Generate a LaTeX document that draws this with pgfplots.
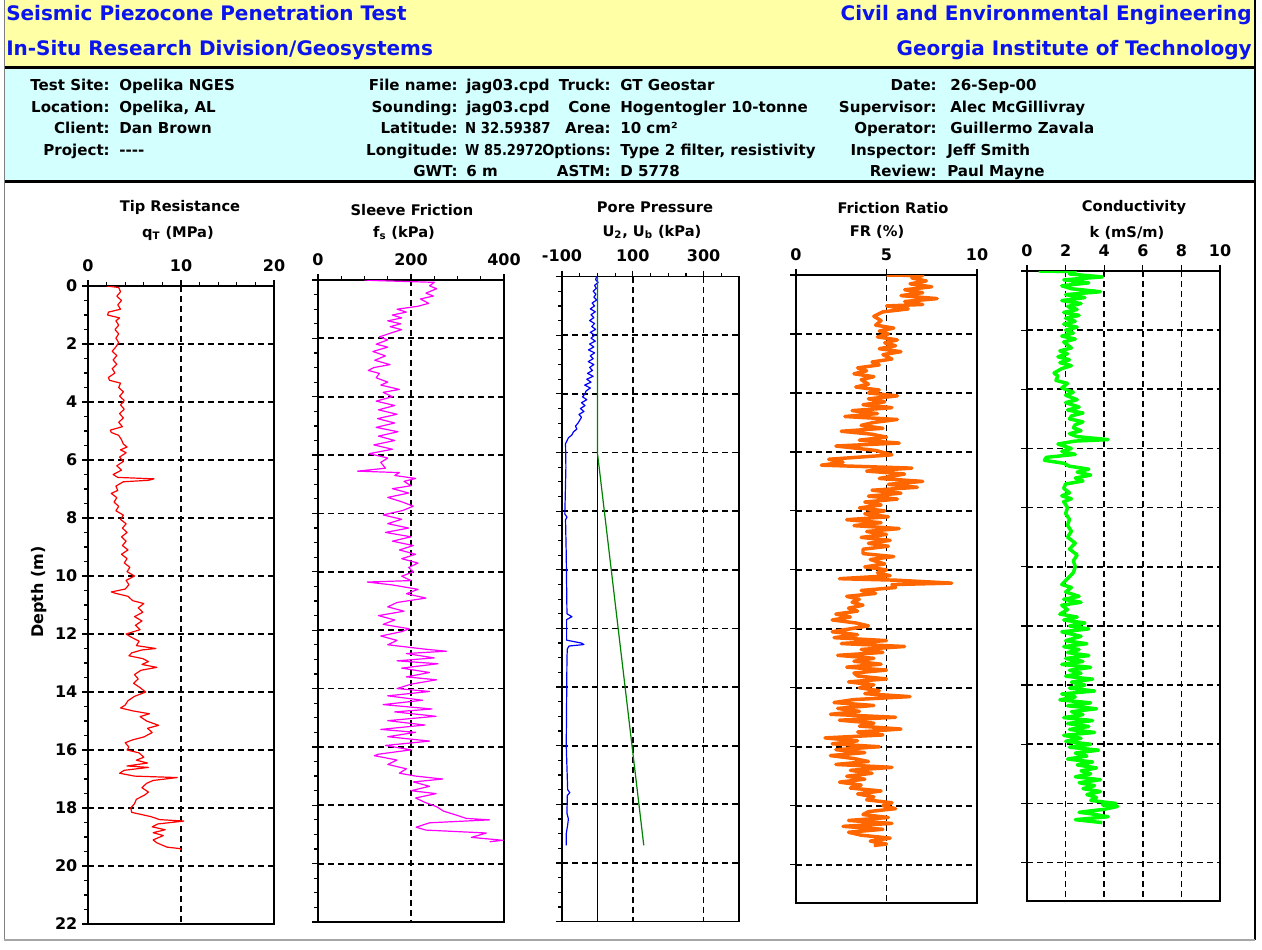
\documentclass[border=0pt]{standalone}
\usepackage{fontspec}
\setmainfont{DejaVu Sans}
\usepackage{pgfplots}
\pgfplotsset{compat=1.18}
\definecolor{hdryellow}{RGB}{255,255,165}
\definecolor{hdrcyan}{RGB}{212,255,255}
\definecolor{hdrblue}{RGB}{10,20,235}
\definecolor{cptred}{RGB}{255,0,0}
\definecolor{cptmag}{RGB}{255,0,255}
\definecolor{cptblue}{RGB}{0,0,255}
\definecolor{cpthyd}{RGB}{0,130,0}
\definecolor{cptorange}{RGB}{255,102,0}
\definecolor{cptlime}{RGB}{0,255,0}
\newcommand\fs[1]{\fontsize{#1}{#1}\selectfont}
\pgfplotsset{
  cpt/.style={
    scale only axis,
    y dir=reverse,
    ymin=0,
    xtick pos=upper,
    xticklabel pos=upper,
    ytick pos=left,
    tick align=outside,
    major tick length=4.5pt,
    minor tick length=3pt,
    every tick/.style={black, line width=0.9pt},
    axis line style={black, line width=1.3pt},
    grid=major,
    major grid style={black, line width=1.3pt, dash pattern=on 4.5pt off 3pt},
    tick label style={font=\bfseries\fs{12}},
    xticklabel style={yshift=3pt},
    /pgf/number format/assume math mode=true,
    anchor=south west,
  }
}
\begin{document}
\begin{tikzpicture}
\begin{scope}[x=0.75pt,y=0.75pt]
\fill[white] (0,0) rectangle (1262,949);
\fill[hdryellow] (4,883) rectangle (1255,949);
\fill[hdrcyan] (4,768) rectangle (1255,880);
\draw[black,line width=2.25pt] (4,881.5) -- (1255,881.5);
\draw[black,line width=2.25pt] (4,767) -- (1255,767);
\draw[black,line width=1.5pt] (1255,9) -- (1255,949);
\draw[gray,line width=0.75pt] (4,9) -- (4,949);
\draw[gray!70,line width=1.2pt] (4,9) -- (1255,9);
% header titles
\begin{scope}[every node/.style={font=\bfseries\fs{15}, text=hdrblue, inner sep=0pt}]
\node[anchor=mid west] at (6,932) {Seismic Piezocone Penetration Test};
\node[anchor=mid west] at (6,897) {In-Situ Research Division/Geosystems};
\node[anchor=mid east] at (1252,932) {Civil and Environmental Engineering};
\node[anchor=mid east] at (1252,897) {Georgia Institute of Technology};
\end{scope}
% info band
\begin{scope}[every node/.style={font=\bfseries\fs{11.3}, text=black, inner sep=0pt}]
\node[anchor=mid east] at (110,862) {Test Site:};
\node[anchor=mid east] at (110,840.5) {Location:};
\node[anchor=mid east] at (110,819) {Client:};
\node[anchor=mid east] at (110,797.5) {Project:};
\node[anchor=mid west] at (119,862) {Opelika NGES};
\node[anchor=mid west] at (119,840.5) {Opelika, AL};
\node[anchor=mid west] at (119,819) {Dan Brown};
\node[anchor=mid west] at (119,797.5) {{-}{-}{-}{-}};
\node[anchor=mid east] at (458,862) {File name:};
\node[anchor=mid east] at (458,840.5) {Sounding:};
\node[anchor=mid east] at (458,819) {Latitude:};
\node[anchor=mid east] at (458,797.5) {Longitude:};
\node[anchor=mid east] at (458,776) {GWT:};
\node[anchor=mid west] at (466,862) {jag03.cpd};
\node[anchor=mid west] at (466,840.5) {jag03.cpd};
\node[anchor=mid west, xscale=0.88] at (465,819) {N 32.59387};
\node[anchor=mid west, xscale=0.86] at (465,797.5) {W 85.2972};
\node[anchor=mid west] at (466,776) {6 m};
\node[anchor=mid east] at (611,862) {Truck:};
\node[anchor=mid east] at (611,840.5) {Cone};
\node[anchor=mid east] at (611,819) {Area:};
\node[anchor=mid east, xscale=0.95] at (611,797.5) {Options:};
\node[anchor=mid east] at (611,776) {ASTM:};
\node[anchor=mid west] at (620,862) {GT Geostar};
\node[anchor=mid west] at (620,840.5) {Hogentogler 10-tonne};
\node[anchor=mid west] at (620,819) {10 cm²};
\node[anchor=mid west] at (620,797.5) {Type 2 filter, resistivity};
\node[anchor=mid west] at (620,776) {D 5778};
\node[anchor=mid east] at (937,862) {Date:};
\node[anchor=mid east] at (937,840.5) {Supervisor:};
\node[anchor=mid east] at (937,819) {Operator:};
\node[anchor=mid east] at (937,797.5) {Inspector:};
\node[anchor=mid east] at (937,776) {Review:};
\node[anchor=mid west] at (950,862) {26-Sep-00};
\node[anchor=mid west] at (950,840.5) {Alec McGillivray};
\node[anchor=mid west] at (950,819) {Guillermo Zavala};
\node[anchor=mid west] at (947,797.5) {Jeff Smith};
\node[anchor=mid west] at (947,776) {Paul Mayne};
\end{scope}
% panel titles
\begin{scope}[every node/.style={font=\bfseries\fs{11}, text=black, inner sep=0pt}]
\node at (180,742) {Tip Resistance};
\node at (178,716) {q\textsubscript{T} (MPa)};
\node at (412,739) {Sleeve Friction};
\node at (404,716) {f\textsubscript{s} (kPa)};
\node at (655,742) {Pore Pressure};
\node at (652,717) {U\textsubscript{2}, U\textsubscript{b} (kPa)};
\node at (893,741) {Friction Ratio};
\node at (877,717) {FR (\%)};
\node at (1134,741) {Conductivity};
\node at (1127,716) {k (mS/m)};
\end{scope}
\node[rotate=90, font=\bfseries\fs{12}] at (39,357) {Depth (m)};
\end{scope}

% Panel 1: tip resistance
\begin{axis}[cpt, at={(66pt,18.75pt)}, width=139.5pt, height=478.5pt,
  xmin=0, xmax=20, ymax=22,
  xtick={0,10,20}, xticklabels={0,10,20}, minor x tick num=4,
  ytick={0,2,4,6,8,10,12,14,16,18,20,22},
  yticklabels={0,2,4,6,8,10,12,14,16,18,20,22}, minor y tick num=3]
\addplot[cptred, line width=0.9pt, line join=round] table[x=v,y=z] {
z v
0.00 2.0
0.05 3.3
0.2 3.5
0.35 3.1
0.5 3.6
0.65 3.2
0.8 3.5
0.9 2.2
1.0 2.1
1.1 3.4
1.2 3.0
1.35 3.3
1.5 2.9
1.65 3.3
1.8 3.0
1.95 3.3
2.1 3.0
2.25 2.6
2.4 3.1
2.55 2.7
2.7 3.1
2.85 2.6
3.0 2.9
3.15 2.2
3.25 2.3
3.35 3.5
3.5 3.3
3.65 3.8
3.8 3.4
3.95 3.9
4.1 3.5
4.25 3.9
4.4 3.4
4.55 3.8
4.7 3.3
4.85 3.7
4.97 2.4
5.05 2.5
5.15 3.3
5.3 3.6
5.45 3.8
5.55 4.2
5.65 3.5
5.75 4.1
5.9 3.4
6.05 3.8
6.2 3.1
6.35 3.6
6.5 2.7
6.6 3.2
6.65 7.1
6.7 6.5
6.75 3.8
6.9 3.0
7.05 3.2
7.15 2.5
7.3 3.1
7.45 2.8
7.6 3.3
7.75 3.0
7.9 3.8
8.05 3.5
8.2 4.1
8.35 3.7
8.5 4.2
8.65 3.6
8.8 4.1
8.95 3.7
9.1 4.3
9.25 3.6
9.4 4.2
9.55 3.9
9.7 4.5
9.85 4.2
10.0 5.0
10.15 4.1
10.3 4.4
10.45 4.0
10.55 2.5
10.6 3.0
10.7 4.3
10.85 4.8
10.95 6.0
11.1 5.4
11.25 5.9
11.4 5.0
11.55 5.8
11.7 5.1
11.85 5.6
12.0 4.1
12.1 4.6
12.25 5.5
12.4 5.2
12.5 7.3
12.55 5.8
12.65 4.7
12.75 4.4
12.85 5.9
12.95 6.5
13.05 5.8
13.15 7.4
13.25 5.7
13.4 5.0
13.55 5.4
13.7 4.9
13.85 5.6
14.0 6.2
14.15 5.0
14.3 4.3
14.45 4.0
14.55 3.5
14.65 4.8
14.75 6.6
14.85 5.6
15.0 6.3
15.15 7.6
15.25 6.4
15.4 6.9
15.55 6.0
15.65 4.8
15.75 4.0
15.9 4.4
16.0 4.2
16.1 5.5
16.25 6.0
16.35 5.2
16.45 6.4
16.55 4.2
16.6 6.5
16.7 3.9
16.8 3.4
16.9 5.0
16.95 9.6
17.05 7.0
17.15 6.3
17.3 5.8
17.45 6.5
17.55 6.1
17.7 5.2
17.85 5.0
18.0 4.6
18.15 4.7
18.3 6.8
18.4 7.7
18.45 10.3
18.55 7.5
18.65 6.9
18.75 8.3
18.85 7.0
18.95 8.1
19.1 7.0
19.2 7.4
19.35 8.5
19.4 9.9
19.45 10.0
};
\end{axis}

% Panel 2: sleeve friction
\begin{axis}[cpt, at={(238.5pt,20.25pt)}, width=139.5pt, height=481.5pt,
  xmin=0, xmax=400, ymax=22,
  xtick={0,200,400}, xticklabels={0,200,400}, minor x tick num=3,
  ytick={0,2,4,6,8,10,12,14,16,18,20,22}, yticklabels={}, minor y tick num=3]
\addplot[cptmag, line width=0.9pt, line join=round] table[x=v,y=z] {
z v
0.00 100
0.02 125
0.08 250
0.2 240
0.3 255
0.45 232
0.55 248
0.65 220
0.8 238
0.9 215
1.0 170
1.1 190
1.2 160
1.3 180
1.4 150
1.5 178
1.6 155
1.7 180
1.8 160
1.95 132
2.05 150
2.2 125
2.3 150
2.45 118
2.6 145
2.75 122
2.9 155
3.0 120
3.1 108
3.2 132
3.35 125
3.5 150
3.6 135
3.75 175
3.85 140
4.0 160
4.15 125
4.3 165
4.45 130
4.6 170
4.75 128
4.9 165
5.05 125
5.2 172
5.35 130
5.5 165
5.65 120
5.8 160
5.95 110
6.1 150
6.25 135
6.45 145
6.55 85
6.6 175
6.7 165
6.8 210
6.9 185
7.05 200
7.15 160
7.3 195
7.45 150
7.6 180
7.75 205
7.9 182
8.05 140
8.2 180
8.35 150
8.5 195
8.65 145
8.8 200
8.95 160
9.1 205
9.25 175
9.4 210
9.55 180
9.7 215
9.85 195
10.0 205
10.15 180
10.3 200
10.35 106
10.45 160
10.6 215
10.75 190
10.9 232
11.05 170
11.2 150
11.35 185
11.5 130
11.65 165
11.8 140
11.95 196
12.05 180
12.2 135
12.35 170
12.5 150
12.65 230
12.72 276
12.8 190
12.95 250
13.05 170
13.15 258
13.3 180
13.45 240
13.6 190
13.7 255
13.85 200
14.0 170
14.1 240
14.25 150
14.4 225
14.55 140
14.7 245
14.8 165
14.95 254
15.1 150
15.25 230
15.4 135
15.5 210
15.65 150
15.8 240
15.95 145
16.1 200
16.25 130
16.3 121
16.45 170
16.6 150
16.75 190
16.9 175
17.0 210
17.1 268
17.2 205
17.35 240
17.5 200
17.6 254
17.75 210
17.9 230
18.05 255
18.2 270
18.35 300
18.45 319
18.5 369
18.6 240
18.75 211
18.85 232
18.95 362
19.1 330
19.2 398
19.25 369
};
\end{axis}

% Panel 3: pore pressure
\begin{axis}[cpt, at={(421.5pt,20.55pt)}, width=132.75pt, height=483.75pt,
  xmin=-100, xmax=400, ymax=22,
  xtick={-100,100,300}, xticklabels={-100,100,300},
  minor xtick={-50,0,50,150,200,250,350},
  ytick={0,2,4,6,8,10,12,14,16,18,20,22}, yticklabels={}, minor y tick num=3]
\draw[black, line width=1pt] (axis cs:0,0) -- (axis cs:0,22);
\addplot[cptblue, line width=0.9pt, line join=round] table[x=v,y=z] {
z v
0.00 -2
0.1 -5
0.2 2
0.3 -8
0.4 -3
0.5 -12
0.6 -4
0.7 -10
0.8 -2
0.9 -15
1.0 -8
1.1 -20
1.2 -6
1.3 -18
1.4 -10
1.5 -22
1.6 -8
1.7 -16
1.8 -5
1.9 -20
2.0 -8
2.1 -18
2.2 -6
2.3 -22
2.4 -10
2.5 -25
2.6 -8
2.7 -20
2.8 -12
2.9 -26
3.0 -10
3.1 -22
3.2 -14
3.3 -28
3.4 -12
3.5 -30
3.6 -18
3.7 -36
3.8 -20
3.9 -32
4.0 -35
4.1 -42
4.2 -30
4.3 -45
4.4 -35
4.5 -48
4.6 -38
4.7 -52
4.8 -45
4.9 -50
5.0 -55
5.1 -62
5.2 -58
5.3 -68
5.4 -72
5.5 -82
5.6 -86
5.7 -90
6.5 -89
8.1 -92
8.2 -86
8.3 -90
9.5 -88
11.5 -86
11.6 -72
11.7 -87
12.4 -87
12.5 -45
12.55 -38
12.6 -80
12.7 -85
13.0 -86
14.5 -87
16.0 -88
17.5 -84
17.6 -78
17.7 -85
18.3 -86
18.5 -82
18.7 -84
19.0 -88
19.4 -88
};
\addplot[cpthyd, line width=0.9pt] table[x=v,y=z] {
z v
0.0 0
6.0 0
19.4 131
};
\end{axis}

% Panel 4: friction ratio
\begin{axis}[cpt, at={(597pt,34.5pt)}, width=135.75pt, height=471pt,
  xmin=0, xmax=10, ymax=21.3,
  xtick={0,5,10}, xticklabels={0,5,10},
  ytick={0,2,4,6,8,10,12,14,16,18,20}, yticklabels={}]
\addplot[cptorange, line width=2.6pt, line join=round] table[x=v,y=z] {
z v
0.00 5.0
0.02 7.0
0.1 6.4
0.2 7.2
0.3 6.3
0.4 7.5
0.5 6.0
0.6 7.0
0.7 5.8
0.8 7.8
0.9 6.0
1.0 7.0
1.05 5.0
1.15 6.2
1.25 4.8
1.4 4.3
1.55 4.7
1.7 4.4
1.8 5.4
1.9 4.6
2.0 5.1
2.1 4.5
2.2 5.6
2.3 4.9
2.4 5.5
2.5 4.6
2.6 5.8
2.7 4.8
2.85 5.3
2.95 4.2
3.05 4.6
3.15 3.4
3.25 3.9
3.35 3.2
3.45 4.3
3.55 3.6
3.7 4.0
3.8 3.3
3.9 4.6
4.0 4.0
4.1 5.6
4.2 4.0
4.3 4.9
4.4 3.7
4.5 5.3
4.6 3.1
4.7 4.5
4.8 2.7
4.9 5.6
5.0 4.3
5.1 3.6
5.2 4.8
5.3 2.5
5.4 4.2
5.5 5.0
5.6 3.5
5.7 5.7
5.8 2.2
5.95 4.4
6.1 5.3
6.25 1.8
6.35 2.6
6.45 1.4
6.55 6.4
6.65 3.9
6.75 6.0
6.9 4.6
7.0 7.0
7.1 5.1
7.2 6.7
7.3 4.2
7.4 5.8
7.5 4.0
7.6 5.6
7.7 3.8
7.8 4.7
7.9 3.5
8.0 4.9
8.1 3.8
8.2 5.1
8.3 2.8
8.4 4.7
8.5 3.2
8.6 5.7
8.7 3.9
8.8 5.0
8.9 3.6
9.0 5.2
9.1 4.0
9.2 5.1
9.3 3.7
9.45 3.7
9.55 5.4
9.65 4.1
9.8 4.9
9.9 3.8
10.0 5.0
10.1 4.5
10.2 5.2
10.3 2.4
10.35 5.5
10.45 8.6
10.5 5.3
10.6 5.5
10.7 3.6
10.8 4.4
10.9 2.8
11.0 3.5
11.1 3.1
11.2 3.7
11.3 2.9
11.4 3.4
11.5 2.2
11.6 3.0
11.7 2.0
11.8 3.3
11.9 4.0
12.0 3.0
12.1 2.0
12.2 3.4
12.3 2.1
12.4 5.0
12.5 2.5
12.6 6.0
12.7 3.6
12.8 4.8
12.9 2.3
13.0 4.3
13.1 3.2
13.2 4.7
13.3 2.8
13.4 5.0
13.5 3.2
13.6 3.4
13.7 5.0
13.8 2.9
13.9 4.3
14.0 3.5
14.1 4.6
14.2 3.8
14.3 6.3
14.4 3.2
14.5 2.1
14.6 4.3
14.7 2.3
14.8 3.5
14.9 1.9
15.0 5.5
15.1 2.4
15.2 4.3
15.3 3.5
15.4 5.8
15.5 3.4
15.6 4.8
15.7 1.6
15.8 3.4
15.9 2.0
16.0 4.6
16.1 2.2
16.2 3.8
16.3 1.9
16.4 3.2
16.5 4.0
16.6 2.2
16.7 5.3
16.8 3.0
16.9 4.2
17.0 2.8
17.1 3.8
17.2 2.4
17.3 3.6
17.4 3.0
17.5 4.7
17.6 3.4
17.7 4.3
17.8 3.9
17.9 5.3
18.0 4.8
18.1 5.5
18.2 4.0
18.3 3.7
18.4 5.1
18.5 2.9
18.6 5.3
18.7 2.6
18.8 4.8
18.9 2.9
19.0 3.6
19.1 5.2
19.2 4.1
19.3 5.0
19.35 4.3
};
\end{axis}

% Panel 5: conductivity
\begin{axis}[cpt, at={(770.25pt,36pt)}, width=144.75pt, height=472.5pt,
  xmin=0, xmax=10, ymax=21.3,
  xtick={0,2,4,6,8,10}, xticklabels={0,2,4,6,8,10},
  ytick={0,2,4,6,8,10,12,14,16,18,20}, yticklabels={}]
\addplot[cptlime, line width=2.6pt, line join=round] table[x=v,y=z] {
z v
0.00 0.6
0.02 2.5
0.1 2.2
0.2 3.9
0.3 1.9
0.4 3.2
0.5 1.8
0.6 2.3
0.7 3.8
0.8 2.0
0.9 3.0
1.0 1.8
1.1 2.8
1.2 2.1
1.3 2.6
1.4 1.9
1.5 2.7
1.6 2.0
1.7 2.5
1.8 1.9
1.9 2.6
2.0 2.0
2.1 2.4
2.2 1.8
2.3 2.5
2.4 1.9
2.6 2.3
2.7 1.7
2.8 2.1
2.9 1.6
3.0 2.2
3.1 1.7
3.2 2.3
3.3 1.8
3.45 1.4
3.55 1.6
3.7 1.5
3.8 2.1
3.95 1.8
4.1 2.4
4.2 2.0
4.35 2.6
4.45 2.0
4.6 2.7
4.7 2.1
4.8 2.9
4.9 2.3
5.0 2.2
5.1 2.9
5.2 2.5
5.3 2.4
5.4 2.8
5.5 2.2
5.6 2.6
5.7 4.2
5.75 2.5
5.85 1.6
6.0 2.3
6.1 1.8
6.2 2.5
6.3 1.0
6.4 0.9
6.5 1.9
6.6 2.2
6.7 3.2
6.8 2.6
6.9 3.3
7.0 2.5
7.1 2.9
7.2 2.0
7.35 1.9
7.5 2.2
7.6 1.8
7.7 2.3
7.8 1.9
8.0 2.1
8.2 2.0
8.4 2.2
8.6 2.1
8.8 2.3
9.0 2.1
9.2 2.5
9.4 2.2
9.6 2.6
9.8 2.4
10.0 2.5
10.2 2.4
10.4 2.1
10.6 1.8
10.7 2.3
10.85 2.0
11.0 2.7
11.1 1.9
11.2 2.8
11.3 1.8
11.45 2.1
11.6 1.7
11.7 2.6
11.8 1.9
11.9 3.0
12.0 2.2
12.1 3.2
12.2 1.8
12.35 2.8
12.5 2.0
12.6 3.1
12.7 1.9
12.8 2.7
12.9 2.1
13.0 3.2
13.1 2.0
13.2 2.9
13.3 1.8
13.4 3.3
13.5 2.2
13.6 2.8
13.7 2.0
13.8 3.4
13.9 2.3
14.0 3.0
14.1 2.2
14.2 3.5
14.3 1.8
14.4 2.5
14.5 1.7
14.6 3.3
14.7 2.1
14.8 3.6
14.9 2.3
15.0 2.9
15.1 1.9
15.2 3.4
15.3 2.1
15.4 3.2
15.5 2.2
15.6 3.5
15.7 1.9
15.8 2.8
15.9 2.0
16.0 3.3
16.1 2.2
16.2 3.7
16.3 2.5
16.4 3.1
16.5 2.1
16.6 3.4
16.7 2.6
16.8 3.6
16.9 2.8
17.0 3.3
17.1 2.5
17.2 3.8
17.3 2.7
17.4 3.5
17.5 2.9
17.6 3.8
17.7 3.1
17.8 3.6
17.9 3.3
18.0 4.6
18.05 3.9
18.1 4.7
18.2 4.0
18.3 2.7
18.35 3.3
18.45 4.2
18.55 2.5
18.65 3.9
};
\end{axis}
\pgfresetboundingbox
\path (0,0) rectangle (946.5pt,711.75pt);
\end{tikzpicture}
\end{document}
